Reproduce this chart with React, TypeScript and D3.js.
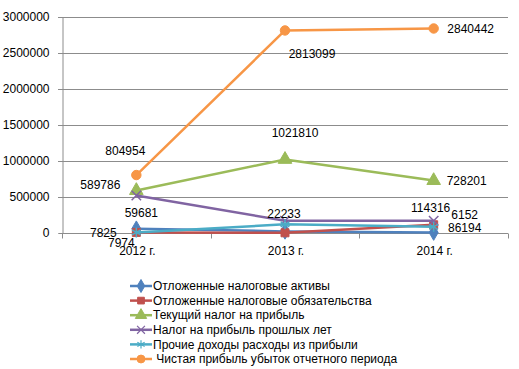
import React, { useEffect, useRef } from "react";
import * as d3 from "d3";

// categories
const years = ["2012 г.", "2013 г.", "2014 г."];

// series values
const deferredAssets = [59681, 22233, 6152];
const deferredLiabilities = [7974, 3000, 114316];
const currentTax = [589786, 1021810, 728201];
const priorYearsTax = [520000, 170000, 170000];
const otherIncome = [7825, 120000, 86194];
const netProfit = [804954, 2813099, 2840442];

const seriesNames = [
  "Отложенные налоговые активы",
  "Отложенные налоговые обязательства",
  "Текущий налог на прибыль",
  "Налог на прибыль прошлых лет",
  "Прочие доходы расходы из прибыли",
  " Чистая прибыль убыток отчетного периода",
];
const seriesValues = [deferredAssets, deferredLiabilities, currentTax, priorYearsTax, otherIncome, netProfit];

const yTicks = [0, 500000, 1000000, 1500000, 2000000, 2500000, 3000000];

// data labels shown on the chart: [series index, category index]
const labelPoints: [number, number][] = [
  [5, 0], [2, 0], [0, 0], [4, 0], [1, 0],
  [5, 1], [2, 1], [0, 1],
  [5, 2], [2, 2], [1, 2], [0, 2], [4, 2],
];
// label offsets from their point (px)
const labelOffsets: [number, number][] = [
  [-11, -24], [-36, -6], [5, -16], [-33, 0], [-15, 10],
  [27, 23], [10, -27], [-1, -18],
  [37, 0], [33, 0], [-3, -17], [31, -18], [31, 1],
];

const colors = ["#4F81BD", "#C0504D", "#9BBB59", "#8064A2", "#4BACC6", "#F79646"];
const symbols = [d3.symbolDiamond, d3.symbolSquare, d3.symbolTriangle, d3.symbolX, d3.symbolAsterisk, d3.symbolCircle];
const symbolSizes = [70, 64, 80, 60, 70, 70];
const strokeSymbol = [false, false, false, true, true, false];

const App = () => {
  const ref = useRef<SVGSVGElement>(null);

  useEffect(() => {
    const width = 519;
    const height = 369;
    const svg = d3.select(ref.current).attr("width", width).attr("height", height);
    svg.selectAll("*").remove();

    const left = 62, right = 508, top = 17, bottom = 233;
    const font = "'Liberation Sans', Arial, sans-serif";

    const x = d3.scaleBand().domain(years).range([left, right]);
    const y = d3.scaleLinear().domain([0, 3000000]).range([bottom, top]);
    const cx = (i: number) => x(years[i])! + x.bandwidth() / 2;

    // gridlines
    svg.append("g")
      .selectAll("line")
      .data(yTicks.slice(1))
      .join("line")
      .attr("x1", left - 4)
      .attr("x2", right)
      .attr("y1", (d) => Math.round(y(d)) + 0.5)
      .attr("y2", (d) => Math.round(y(d)) + 0.5)
      .attr("stroke", "#8c8c8c");

    // y axis
    const yAxis = svg.append("g")
      .attr("transform", `translate(${left + 0.5},0)`)
      .call(d3.axisLeft(y).tickValues(yTicks).tickSize(4).tickFormat((d) => String(d)));
    yAxis.select(".domain").attr("stroke", "#8c8c8c");
    yAxis.selectAll(".tick line").attr("stroke", "#8c8c8c");
    yAxis.selectAll(".tick text").attr("font-family", font).attr("font-size", 12).attr("fill", "#000").attr("x", -13);

    // x axis
    const xAxis = svg.append("g").attr("transform", `translate(0,${bottom + 0.5})`);
    xAxis.append("line").attr("x1", left).attr("x2", right).attr("stroke", "#8c8c8c");
    xAxis.selectAll(".tk")
      .data(d3.range(years.length + 1))
      .join("line")
      .attr("class", "tk")
      .attr("x1", (i) => Math.round(left + i * x.bandwidth()) + 0.5)
      .attr("x2", (i) => Math.round(left + i * x.bandwidth()) + 0.5)
      .attr("y1", 0)
      .attr("y2", 5)
      .attr("stroke", "#8c8c8c");
    xAxis.selectAll("text")
      .data(years)
      .join("text")
      .attr("x", (d) => x(d)! + x.bandwidth() / 2 + 1)
      .attr("y", 21)
      .attr("text-anchor", "middle")
      .attr("font-family", font)
      .attr("font-size", 12)
      .text((d) => d);

    // series
    const line = d3.line<number>().x((_, i) => cx(i)).y((d) => y(d));
    seriesValues.forEach((vals, s) => {
      const g = svg.append("g");
      g.append("path")
        .attr("d", line(vals))
        .attr("fill", "none")
        .attr("stroke", colors[s])
        .attr("stroke-width", 2.5)
        .attr("stroke-linejoin", "round");
      g.selectAll("path.m")
        .data(vals)
        .join("path")
        .attr("class", "m")
        .attr("transform", (d, i) => `translate(${cx(i)},${y(d)})`)
        .attr("d", d3.symbol(symbols[s], symbolSizes[s])())
        .attr("fill", strokeSymbol[s] ? "none" : colors[s])
        .attr("stroke", colors[s])
        .attr("stroke-width", strokeSymbol[s] ? 1.5 : 1);
    });

    // data labels
    svg.append("g")
      .selectAll("text")
      .data(labelPoints)
      .join("text")
      .attr("x", ([s, i], k) => cx(i) + labelOffsets[k][0])
      .attr("y", ([s, i], k) => y(seriesValues[s][i]) + labelOffsets[k][1])
      .attr("dy", "0.35em")
      .attr("text-anchor", "middle")
      .attr("font-family", font)
      .attr("font-size", 12)
      .attr("fill", "#000")
      .text(([s, i]) => String(seriesValues[s][i]));

    // legend
    const legend = svg.append("g").attr("transform", "translate(130,286)");
    seriesNames.forEach((name, s) => {
      const row = legend.append("g").attr("transform", `translate(0,${s * 14.6})`);
      row.append("line").attr("x1", 0).attr("x2", 22).attr("stroke", colors[s]).attr("stroke-width", 2.5);
      row.append("path")
        .attr("transform", "translate(11,0)")
        .attr("d", d3.symbol(symbols[s], symbolSizes[s] * 0.7)())
        .attr("fill", strokeSymbol[s] ? "none" : colors[s])
        .attr("stroke", colors[s])
        .attr("stroke-width", strokeSymbol[s] ? 1.2 : 1);
      row.append("text")
        .attr("x", 23)
        .attr("dy", "0.35em")
        .attr("font-family", font)
        .attr("font-size", 12)
        .attr("fill", "#000")
        .attr("xml:space", "preserve")
        .style("white-space", "pre")
        .text(name);
    });
  }, []);

  return (
    <>
      <style>{`body{margin:0}`}</style>
      <svg ref={ref} style={{ display: "block" }}></svg>
    </>
  );
};

export default App;
